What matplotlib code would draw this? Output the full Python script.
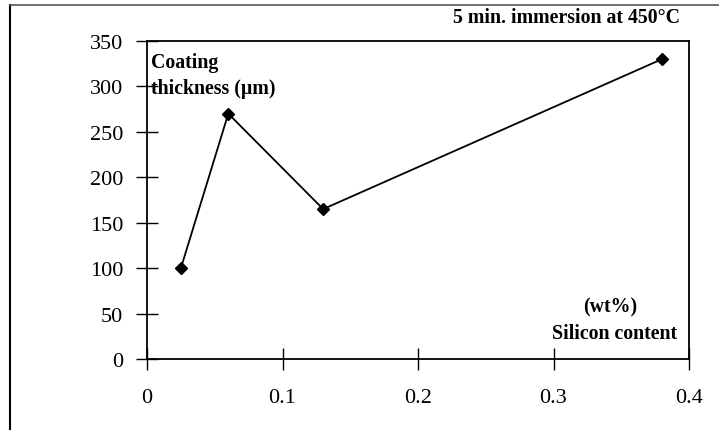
import matplotlib.pyplot as plt
from matplotlib.lines import Line2D

# Silicon content (wt%) vs coating thickness (um)
silicon = [0.025, 0.06, 0.13, 0.38]
thickness = [100, 270, 165, 330]

x_ticks = [0, 0.1, 0.2, 0.3, 0.4]
x_labels = ["0", "0.1", "0.2", "0.3", "0.4"]
y_ticks = [0, 50, 100, 150, 200, 250, 300, 350]

plt.rcParams["font.family"] = ["Liberation Serif", "DejaVu Serif"]

fig = plt.figure(figsize=(7.19, 4.31), dpi=100)
W, H = 719, 431
ax = fig.add_axes([147 / W, 1 - 360 / H, (689 - 147) / W, (360 - 42) / H])

ax.plot(silicon, thickness, "-D", color="black", linewidth=1.3,
        markersize=6)

ax.set_xlim(0, 0.4)
ax.set_ylim(0, 350)
ax.set_xticks(x_ticks)
ax.set_xticklabels(x_labels)
ax.set_yticks(y_ticks)
ax.tick_params(direction="inout", length=16, width=1, labelsize=16)
ax.tick_params(axis="x", pad=13)
ax.tick_params(axis="y", pad=9)
for s in ax.spines.values():
    s.set_linewidth(1.3)


def px(x, y):
    return x / W, 1 - y / H


bold = dict(fontsize=14.3, fontweight="bold", va="center",
            transform=fig.transFigure)
fig.text(*px(151, 63), "Coating", ha="left", **bold)
fig.text(*px(151, 89), "thickness (\u00b5m)", ha="left", **bold)
fig.text(*px(610, 307), "(wt%)", ha="center", **bold)
fig.text(*px(615, 334), "Silicon content", ha="center", **bold)
fig.text(*px(680, 18), "5 min. immersion at 450\u00b0C", ha="right", **bold)

# outer frame (top and left edges)
fig.add_artist(Line2D([10 / W, 10 / W], [0, 1 - 6 / H], color="black",
                      linewidth=1.5, transform=fig.transFigure))
fig.add_artist(Line2D([10 / W, 1], [1 - 6 / H, 1 - 6 / H], color="#555555",
                      linewidth=1.2, transform=fig.transFigure))

fig.savefig("out.png", dpi=100)
